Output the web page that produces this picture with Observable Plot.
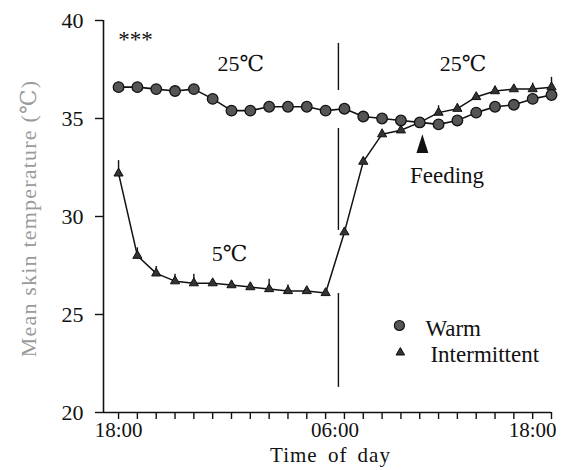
<!DOCTYPE html>
<html>
<head>
<meta charset="utf-8">
<script src="https://cdn.jsdelivr.net/npm/d3@7"></script>
<script src="https://cdn.jsdelivr.net/npm/@observablehq/plot@0.6"></script>
<style>
  html, body { margin: 0; padding: 0; background: #fff; }
  #chart { width: 562px; height: 470px; }
  #chart svg, #chart svg text { font-family: "Liberation Serif", "DejaVu Serif", serif, "Noto Sans CJK JP" !important; }
</style>
</head>
<body>
<div id="chart"></div>
<script>
// Hourly sampling times (hour index 0 = 18:00)
const times = ["18:00","19:00","20:00","21:00","22:00","23:00","00:00","01:00","02:00","03:00","04:00","05:00",
               "06:00","07:00","08:00","09:00","10:00","11:00","12:00","13:00","14:00","15:00","16:00","17:00"];
// Mean skin temperature (°C)
const warm = [36.6, 36.6, 36.5, 36.4, 36.5, 36.0, 35.4, 35.4, 35.6, 35.6, 35.6, 35.4,
              35.5, 35.1, 35.0, 34.9, 34.8, 34.7, 34.9, 35.3, 35.6, 35.7, 36.0, 36.2];
const intermittent = [32.2, 28.0, 27.1, 26.7, 26.6, 26.6, 26.5, 26.4, 26.3, 26.2, 26.2, 26.1,
                      29.2, 32.8, 34.2, 34.4, 34.8, 35.3, 35.5, 36.1, 36.4, 36.5, 36.5, 36.6];
const intermittentErr = [0.65, 0.4, 0.35, 0.35, 0.45, 0.2, 0.2, 0.2, 0.5, 0.3, 0.2, 0.15,
                         0.2, 0.2, 0.25, 0.35, 0.2, 0.35, 0.25, 0.15, 0.25, 0.2, 0.3, 0.5];
const yTicks = [20, 25, 30, 35, 40];
const xTickLabels = ["18:00", "06:00", "18:00"];
const xTickLabelPos = [0, 11.5, 22];
const xLabel = "Time of day";
const yLabel = "Mean skin temperature (℃)";
const seriesNames = ["Warm", "Intermittent"];
// annotations (in data coordinates: hour index, °C)
const annotations = [
  {label: "***", x: 0.9, y: 39.0, size: 23},
  {label: "25℃", x: 6.5, y: 37.8, size: 22},
  {label: "25℃", x: 18.3, y: 37.8, size: 22},
  {label: "5℃", x: 5.9, y: 28.1, size: 22},
  {label: "Feeding", x: 17.45, y: 32.1, size: 23}
];
const feedingMark = [{x: 16.14, y: 33.72}];
const dividerX = 11.68;
const dividerSegments = [[38.83, 36.43], [34.49, 29.29], [26.07, 21.28]];
const legendPos = [{x: 14.92, y: 24.44, tx: 16.3, ty: 24.29}, {x: 14.97, y: 23.06, tx: 16.57, ty: 22.96}];

const rows = times.map((t, i) => ({i, t, warm: warm[i], inter: intermittent[i], err: intermittentErr[i]}));
const labelMap = new Map(xTickLabelPos.map((p, k) => [p, xTickLabels[k]]));

const tallTriangle = {
  draw(context, size) {
    const h = Math.sqrt(size);
    context.moveTo(0, -h * 0.5);
    context.lineTo(h * 0.32, h * 0.5);
    context.lineTo(-h * 0.32, h * 0.5);
    context.closePath();
  }
};

const font = "'Liberation Serif', 'DejaVu Serif', serif";

const chart = Plot.plot({
  width: 562,
  height: 470,
  marginLeft: 103,
  marginRight: 11,
  marginTop: 20,
  marginBottom: 58,
  style: {fontFamily: font, fontSize: "22px", color: "#111", background: "#fff"},
  x: {domain: [-0.8, 23]},
  y: {domain: [20, 40]},
  marks: [
    Plot.ruleY([20], {stroke: "#111", strokeWidth: 1.6}),
    Plot.ruleX([-0.8], {stroke: "#111", strokeWidth: 1.6}),
    Plot.axisY({ticks: yTicks, tickSize: 8, tickPadding: 12, fontSize: 22, label: null, strokeWidth: 1.4}),
    Plot.axisX({ticks: rows.map(d => d.i), tickSize: 7, tickFormat: () => "", label: null, strokeWidth: 1.4}),
    Plot.axisX({ticks: xTickLabelPos, tickSize: 0, tickPadding: 10, tickFormat: d => labelMap.get(d), label: null, fontSize: 21}),
    Plot.text([xLabel], {frameAnchor: "bottom", dy: 49, dx: 3, fontSize: 21, fill: "#111"}),
    Plot.text([yLabel], {frameAnchor: "left", textAnchor: "middle", rotate: -90, dx: -75, dy: 2, fontSize: 22, fill: "#9a9a9a"}),
    // divider line at lights/temperature switch
    Plot.ruleX(dividerSegments, {x: () => dividerX, y1: d => d[0], y2: d => d[1], stroke: "#111", strokeWidth: 1.4}),
    // Intermittent series
    Plot.ruleX(rows, {x: "i", y1: "inter", y2: d => d.inter + d.err, stroke: "#111", strokeWidth: 1.4}),
    Plot.line(rows, {x: "i", y: "inter", stroke: "#111", strokeWidth: 1.5}),
    Plot.dot(rows, {x: "i", y: "inter", symbol: "triangle", r: 3.4, fill: "#333", stroke: "#111", strokeWidth: 1}),
    // Warm series
    Plot.line(rows, {x: "i", y: "warm", stroke: "#111", strokeWidth: 1.6}),
    Plot.dot(rows, {x: "i", y: "warm", r: 5.3, fill: "#555", stroke: "#111", strokeWidth: 1.3}),
    // feeding marker
    Plot.dot(feedingMark, {x: "x", y: "y", symbol: tallTriangle, r: 10.5, fill: "#111", stroke: "none"}),
    // annotations
    Plot.text(annotations, {x: "x", y: "y", text: "label", fontSize: d => d.size, fill: "#111"}),
    // legend
    Plot.dot([legendPos[0]], {x: "x", y: "y", r: 5, fill: "#555", stroke: "#111", strokeWidth: 1.2}),
    Plot.dot([legendPos[1]], {x: "x", y: "y", symbol: "triangle", r: 3.2, fill: "#333", stroke: "#111", strokeWidth: 1}),
    Plot.text(legendPos, {x: "tx", y: "ty", text: (d, k) => seriesNames[k], textAnchor: "start", fontSize: 23, fill: "#111"})
  ]
});

d3.select(chart).selectAll("text").each(function() {
  const t = this.textContent;
  if (t === yLabel) d3.select(this).style("letter-spacing", "1.2px");
  if (t === xLabel) d3.select(this).style("letter-spacing", "1px").style("word-spacing", "4px");
});

document.getElementById("chart").appendChild(chart);
</script>
</body>
</html>
